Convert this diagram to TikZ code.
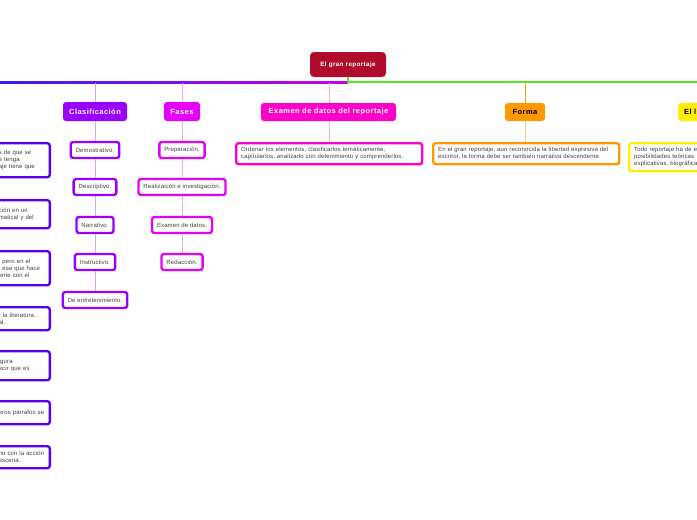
\documentclass[tikz,border=0pt]{standalone}
\usepackage{fontspec}
\setmainfont{Liberation Sans}
\newfontfamily\ttlfont[LetterSpace=6]{Liberation Sans}
\newfontfamily\smfont[LetterSpace=2]{Liberation Sans}
\definecolor{rootred}{HTML}{B00C2C}
\definecolor{barblue}{HTML}{3A1EEA}
\definecolor{barpurple}{HTML}{9A00F6}
\definecolor{barmag}{HTML}{C800E6}
\definecolor{gline}{HTML}{4EEA1C}
\definecolor{clasc}{HTML}{9A00FF}
\definecolor{clasl}{HTML}{D7A4FA}
\definecolor{fasec}{HTML}{E600FA}
\definecolor{fasel}{HTML}{F3A4FF}
\definecolor{examc}{HTML}{FF00C8}
\definecolor{examl}{HTML}{FFA2E6}
\definecolor{formc}{HTML}{FF9900}
\definecolor{forml}{HTML}{FFC878}
\definecolor{yelc}{HTML}{FFEE00}
\definecolor{leftc}{HTML}{5A00F2}
\definecolor{txtgray}{HTML}{404040}
\tikzset{
  title/.style={rounded corners=3pt, minimum height=19pt, inner xsep=6pt, inner ysep=0pt,
    font=\ttlfont\bfseries\fontsize{7.5}{8.5}\selectfont, text=white},
  leaf/.style={draw, line width=2.4pt, rounded corners=2.5pt, fill=white, minimum height=16pt,
    inner xsep=5pt, inner ysep=0pt, font=\smfont\fontsize{6}{7}\selectfont, text=txtgray},
  note/.style={leaf, align=left, inner ysep=3pt},
  conn/.style={line width=1pt}
}
\begin{document}
\begin{tikzpicture}[x=1pt,y=-1pt]
\useasboundingbox (0,0) rectangle (697,520);
\clip (0,0) rectangle (697,520);
\fill[white] (0,0) rectangle (697,520);

% root
\node[title, fill=rootred, minimum width=76pt, minimum height=25pt, rounded corners=4pt,
  font=\ttlfont\bfseries\fontsize{6.3}{7.5}\selectfont] (root) at (348,64.5) {El gran reportaje};
\coordinate (rj) at (348,82);
\coordinate (lend) at (0,82);
\coordinate (gend) at (697,82);
\shade[left color=barblue, middle color=barpurple, right color=barmag] (0,81) rectangle (348,83);
\draw[gline, line width=2pt] (root.south) -- (rj) -- (gend);

% main topics
\node[title, fill=clasc, minimum width=64pt] (clas) at (95,111.5) {Clasificación};
\node[title, fill=fasec, minimum width=36pt] (fase) at (182,111.5) {Fases};
\node[title, fill=examc, minimum width=135pt, minimum height=18pt] (exam) at (328.5,112) {Examen de datos del reportaje};
\node[title, fill=formc, text=black, minimum width=40pt, minimum height=18pt] (form) at (525,112) {Forma};
\node[title, fill=yelc, text=black, anchor=west, minimum width=60pt, minimum height=18pt, align=left, text width=48pt] (leng) at (678,112) {El l};

\coordinate (bc) at (95,83);
\coordinate (bf) at (182,83);
\coordinate (be) at (329,83);
\coordinate (bo) at (525,83);
\draw[clasl, conn] (bc) -- (clas.north);
\draw[fasel, conn] (bf) -- (fase.north);
\draw[examl, conn] (be) -- (exam.north -| be);
\draw[formc, conn] (bo) -- (form.north);

% Clasificacion children
\node[leaf, draw=clasc] (c1) at (95,150) {Demostrativo.};
\node[leaf, draw=clasc] (c2) at (95,187) {Descriptivo.};
\node[leaf, draw=clasc] (c3) at (95,225) {Narrativo.};
\node[leaf, draw=clasc] (c4) at (95,262) {Instructivo.};
\node[leaf, draw=clasc] (c5) at (95,300) {De entretenimiento.};
\draw[clasl, conn] (clas.south) -- (c1.north);
\draw[clasl, conn] (c1.south) -- (c2.north);
\draw[clasl, conn] (c2.south) -- (c3.north);
\draw[clasl, conn] (c3.south) -- (c4.north);
\draw[clasl, conn] (c4.south) -- (c5.north);

% Fases children
\node[leaf, draw=fasec] (f1) at (182,150) {Preparación.};
\node[leaf, draw=fasec] (f2) at (182,187) {Realización e investigación.};
\node[leaf, draw=fasec] (f3) at (182,225) {Examen de datos.};
\node[leaf, draw=fasec] (f4) at (182,262) {Redacción.};
\draw[fasel, conn] (fase.south) -- (f1.north);
\draw[fasel, conn] (f1.south) -- (f2.north);
\draw[fasel, conn] (f2.south) -- (f3.north);
\draw[fasel, conn] (f3.south) -- (f4.north);

% Examen child
\node[note, draw=examc, text width=176pt, minimum height=21pt, anchor=north west] (e1) at (235,142)
  {Ordenar los elementos, clasificarlos temáticamente,\\capítularlos, analizarlo con detenimiento y comprenderlos.};
\draw[examl, conn] (exam.south -| be) -- (e1.north -| be);

% Forma child
\node[note, draw=formc, text width=176pt, minimum height=21pt, anchor=north west] (o1) at (432,142)
  {En el gran reportaje, aun reconocida la libertad expresiva del\\escritor, la forma debe ser también narrativa descendente.};
\draw[forml, conn] (form.south) -- (o1.north -| form.south);

% right child
\node[note, draw=yelc, text width=110pt, minimum height=28pt, anchor=north west] (y1) at (628,142)
  {Todo reportaje ha de e\\posibilidades teóricas\\explicativas, biográfica};

% left column boxes
\tikzset{lbox/.style={note, draw=leftc, text width=46pt, anchor=north east}}
\node[lbox, minimum height=34pt] (l1) at (51,142) {s de que se\\e tenga\\aje tiene que};
\node[lbox, minimum height=28pt] (l2) at (51,199) {ción en un\\matical y del};
\node[lbox, minimum height=34pt] (l3) at (51,250) {, pero en el\\, ese que hace\\ente con el};
\node[lbox, minimum height=23pt] (l4) at (51,306) {r la literatura.\\al.};
\node[lbox, minimum height=29pt] (l5) at (51,350) {igura\\ecir que es};
\node[lbox, minimum height=23pt] (l6) at (51,400) {eros párrafos se};
\node[lbox, minimum height=22pt] (l7) at (51,445) {no con la acción\\escena.};
\end{tikzpicture}
\end{document}
